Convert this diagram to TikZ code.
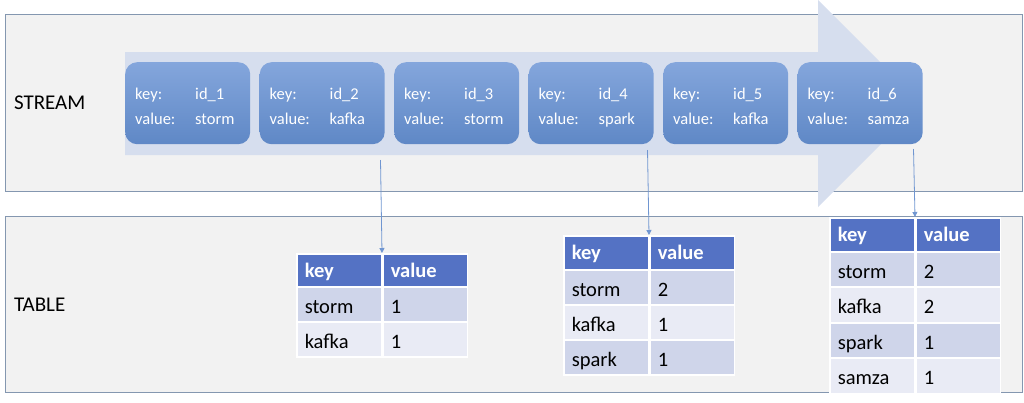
\documentclass[tikz,border=0pt]{standalone}
\usepackage{fontspec}
\setmainfont{Carlito}
\usetikzlibrary{arrows.meta, positioning}
\definecolor{StreamFill}{HTML}{F2F2F2}
\definecolor{BoxLine}{HTML}{8497B0}
\definecolor{FlowFill}{HTML}{D6DEEE}
\definecolor{RecTop}{HTML}{84A6DC}
\definecolor{RecBottom}{HTML}{5F88C6}
\definecolor{HeadFill}{HTML}{5472C4}
\definecolor{RowDark}{HTML}{CFD5EA}
\definecolor{RowLight}{HTML}{E9EBF5}
\definecolor{LinkBlue}{HTML}{7096D1}

\tikzset{
  record/.style={anchor=north west, minimum width=125pt, minimum height=82pt,
    rounded corners=12pt, top color=RecTop, bottom color=RecBottom, text=white,
    inner xsep=10pt, text width=105pt, align=left,
    font=\fontsize{16.5}{25}\selectfont},
  cell/.style={anchor=north west, minimum width=84.5pt, minimum height=35pt,
    inner xsep=8pt, inner ysep=0pt, text width=68.5pt, align=left,
    text height=18pt, text depth=0pt,
    draw=white, line width=1.5pt, font=\fontsize{20.5}{24}\selectfont},
  headcell/.style={cell, fill=HeadFill, minimum height=33pt, text=white,
    text height=13.5pt, font=\fontsize{20.5}{24}\selectfont\bfseries},
  link/.style={LinkBlue, line width=0.8pt, -{Triangle[length=5pt, width=5pt]}}
}

\begin{document}
\begin{tikzpicture}[x=1pt, y=-1pt]
  \useasboundingbox (0,0) rectangle (1024,402);
  % stream area
  \draw[BoxLine, fill=StreamFill, line width=1pt] (5,14) rectangle (1022,191);
  \node[anchor=west, font=\fontsize{21}{24}\selectfont] (streamlbl) at (10.5,103) {STREAM};
  \fill[FlowFill] (125,52) -- (818,52) -- (818,0) -- (921.5,103.5) -- (818,207)
    -- (818,155) -- (125,155) -- cycle;
  \foreach \k/\v [count=\i] in {id\_1/storm, id\_2/kafka, id\_3/storm,
      id\_4/spark, id\_5/kafka, id\_6/samza} {
    \node[record] (rec\i) at ({125+134.5*(\i-1)},62)
      {\rule[-4pt]{0pt}{25pt}\makebox[60pt][l]{key:}\k\\
       \rule[-4pt]{0pt}{16pt}\makebox[60pt][l]{value:}\v};
  }

  % table area
  \draw[BoxLine, fill=StreamFill, line width=1pt] (5,216) rectangle (1022,392);
  \node[anchor=west, font=\fontsize{21}{24}\selectfont] (tablelbl) at (10.5,305) {TABLE};

  % table after id_2
  \node[headcell] (ta-k) at (296,253) {key};
  \node[headcell, right=0pt of ta-k] (ta-v) {value};
  \foreach \k/\v/\c [count=\i] in {storm/1/RowDark, kafka/1/RowLight} {
    \node[cell, fill=\c] (ta-k\i) at (296,{286+35*(\i-1)}) {\k};
    \node[cell, fill=\c, right=0pt of ta-k\i] (ta-v\i) {\v};
  }

  % table after id_4
  \node[headcell, minimum height=34pt] (tb-k) at (563,235) {key};
  \node[headcell, minimum height=34pt, right=0pt of tb-k] (tb-v) {value};
  \foreach \k/\v/\c [count=\i] in {storm/2/RowDark, kafka/1/RowLight, spark/1/RowDark} {
    \node[cell, fill=\c] (tb-k\i) at (563,{269+35*(\i-1)}) {\k};
    \node[cell, fill=\c, right=0pt of tb-k\i] (tb-v\i) {\v};
  }

  % table after id_6
  \node[headcell, minimum height=34pt] (tc-k) at (829,217) {key};
  \node[headcell, minimum height=34pt, right=0pt of tc-k] (tc-v) {value};
  \foreach \k/\v/\c [count=\i] in {storm/2/RowDark, kafka/2/RowLight,
      spark/1/RowDark, samza/1/RowLight} {
    \node[cell, fill=\c] (tc-k\i) at (829,{251+35.5*(\i-1)}) {\k};
    \node[cell, fill=\c, right=0pt of tc-k\i] (tc-v\i) {\v};
  }

  % state updates
  \coordinate (from2) at (380.5,160);
  \coordinate (from4) at (647.5,150);
  \coordinate (from6) at (913.5,149);
  \draw[link] (from2) -- (ta-k.north east);
  \draw[link] (from4) -- (tb-k.north east);
  \draw[link] (from6) -- (tc-k.north east);
\end{tikzpicture}
\end{document}
